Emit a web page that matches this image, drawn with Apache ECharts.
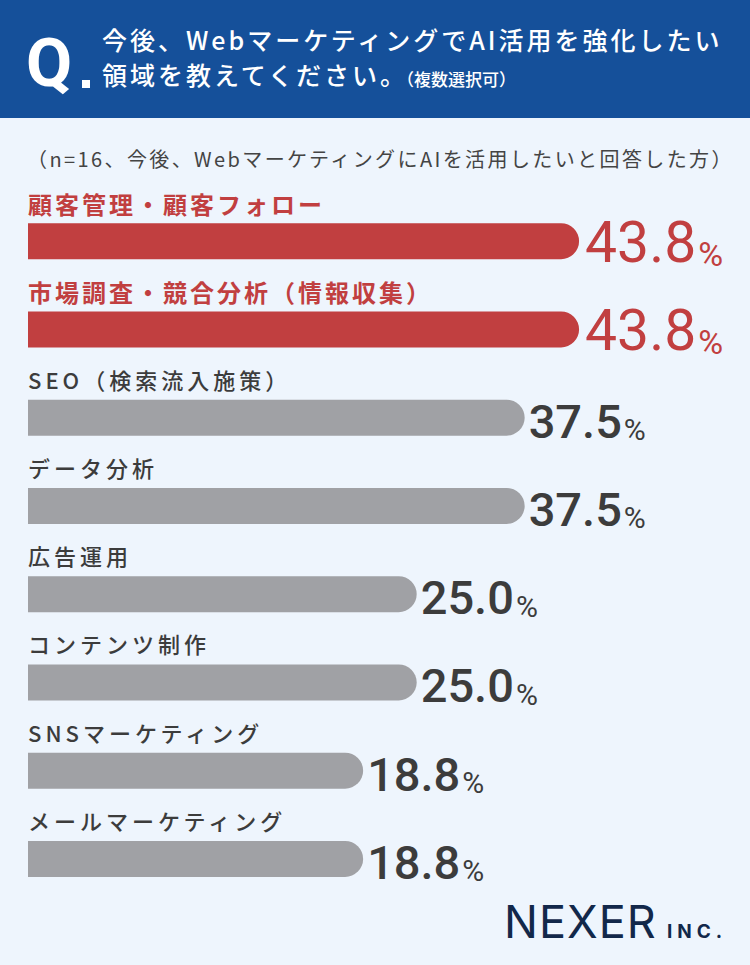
<!DOCTYPE html>
<html>
<head>
<meta charset="utf-8">
<script src="https://cdn.jsdelivr.net/npm/echarts@6/dist/echarts.min.js"></script>
<style>
  html, body { margin: 0; padding: 0; background: #eef5fd; }
  #main { width: 750px; height: 965px; }
  /* letter spacing for the japanese labels (svg renderer) */
  #main text[style*="25px"] { letter-spacing: 3px; }
  #main text[style*="20px"] { letter-spacing: 2.4px; }
  #main text[style*="24px"] { letter-spacing: 3px; }
  #main text[style*="22px"] { letter-spacing: 4px; }
  #main text[style*="19px"] { letter-spacing: 5px; }
  #main text[style*="45px"] { letter-spacing: 1px; }
</style>
</head>
<body>
<div id="main"></div>
<script>
// 回答項目と割合(%)
var categories = [
    '顧客管理・顧客フォロー',
    '市場調査・競合分析（情報収集）',
    'SEO（検索流入施策）',
    'データ分析',
    '広告運用',
    'コンテンツ制作',
    'SNSマーケティング',
    'メールマーケティング'
];
var values = [43.8, 43.8, 37.5, 37.5, 25.0, 25.0, 18.8, 18.8];
var highlightCount = 2;   // 上位2項目は赤

var titleLine1 = '今後、WebマーケティングでAI活用を強化したい';
var titleLine2 = '領域を教えてください。';
var titleNote = '（複数選択可）';
var subtitle = '（n=16、今後、WebマーケティングにAIを活用したいと回答した方）';

var RED = '#c13f40';
var GRAY = '#a0a1a5';
var TEXT = '#3c3c3c';
var NAVY = '#12284a';
var X_MIN = -20;   // bars begin at the axis start

var myChart = echarts.init(document.getElementById('main'), null, { renderer: 'svg' });

var seriesData = [];
for (var i = 0; i < values.length; i++) {
    seriesData.push([i, values[i]]);
}

myChart.setOption({
    backgroundColor: '#eef5fd',
    animation: false,
    grid: { left: 28, width: 691, top: 197, bottom: 62 },
    xAxis: {
        type: 'value', min: X_MIN, max: 60, interval: 20,
        show: false
    },
    yAxis: {
        type: 'category', inverse: true, data: categories,
        show: false
    },
    graphic: [
        { type: 'rect', x: 0, y: 0, shape: { width: 750, height: 118 }, style: { fill: '#15509a' } },
        { type: 'text', x: 26, y: 63, style: { text: 'Q', fill: '#fff', font: 'bold 67px Roboto', verticalAlign: 'middle' } },
        { type: 'rect', x: 82, y: 80, shape: { width: 8, height: 8 }, style: { fill: '#fff' } },
        { type: 'text', x: 102, y: 39, style: { text: titleLine1, fill: '#fff', font: '500 25px "Noto Sans CJK JP"', verticalAlign: 'middle' } },
        { type: 'text', x: 102, y: 74, style: { text: titleLine2, fill: '#fff', font: '500 25px "Noto Sans CJK JP"', verticalAlign: 'middle' } },
        { type: 'text', x: 397, y: 78, style: { text: titleNote, fill: '#fff', font: '500 17px "Noto Sans CJK JP"', verticalAlign: 'middle' } },
        { type: 'text', x: 27, y: 158, style: { text: subtitle, fill: '#444', font: '20px "Noto Sans CJK JP"', verticalAlign: 'middle' } },
        { type: 'text', x: 504, y: 921, style: { text: 'NEXER', fill: NAVY, font: '400 45px Inter', verticalAlign: 'middle' } },
        { type: 'text', x: 667, y: 931, style: { text: 'INC.', fill: NAVY, font: 'bold 19px Inter', verticalAlign: 'middle' } }
    ],
    series: [
        {
            type: 'custom',
            encode: { x: 1, y: 0 },
            data: seriesData,
            renderItem: function (params, api) {
                var cat = api.value(0);
                var val = api.value(1);
                var start = api.coord([X_MIN, cat]);
                var end = api.coord([val, cat]);
                var h = 36;
                var hot = cat < highlightCount;
                var color = hot ? RED : GRAY;
                var top = end[1] - h / 2;
                return {
                    type: 'group',
                    children: [
                        {
                            type: 'rect',
                            shape: { x: start[0], y: top, width: end[0] - start[0], height: h, r: [0, h / 2, h / 2, 0] },
                            style: { fill: color }
                        },
                        {
                            type: 'text',
                            x: start[0],
                            y: top - (hot ? 19.5 : 21),
                            style: {
                                text: categories[cat],
                                fill: hot ? RED : TEXT,
                                font: hot ? 'bold 24px "Noto Sans CJK JP"' : '500 22px "Noto Sans CJK JP"',
                                verticalAlign: 'middle'
                            }
                        },
                        {
                            type: 'text',
                            x: end[0] + (hot ? 6 : 4),
                            y: end[1] + (hot ? 0 : 2),
                            style: {
                                text: '{v|' + val.toFixed(1) + '}{p|%}',
                                verticalAlign: 'middle',
                                rich: hot ? {
                                    v: { fill: RED, font: '400 57px Roboto', verticalAlign: 'bottom', lineHeight: 60 },
                                    p: { fill: RED, font: '400 34px Roboto', verticalAlign: 'bottom', lineHeight: 47, padding: [0, 0, 0, 2] }
                                } : {
                                    v: { fill: TEXT, font: '500 47px Roboto', verticalAlign: 'bottom', lineHeight: 50 },
                                    p: { fill: TEXT, font: '400 30px Roboto', verticalAlign: 'bottom', lineHeight: 39, padding: [0, 0, 0, 2] }
                                }
                            }
                        }
                    ]
                };
            }
        }
    ]
});
</script>
</body>
</html>
